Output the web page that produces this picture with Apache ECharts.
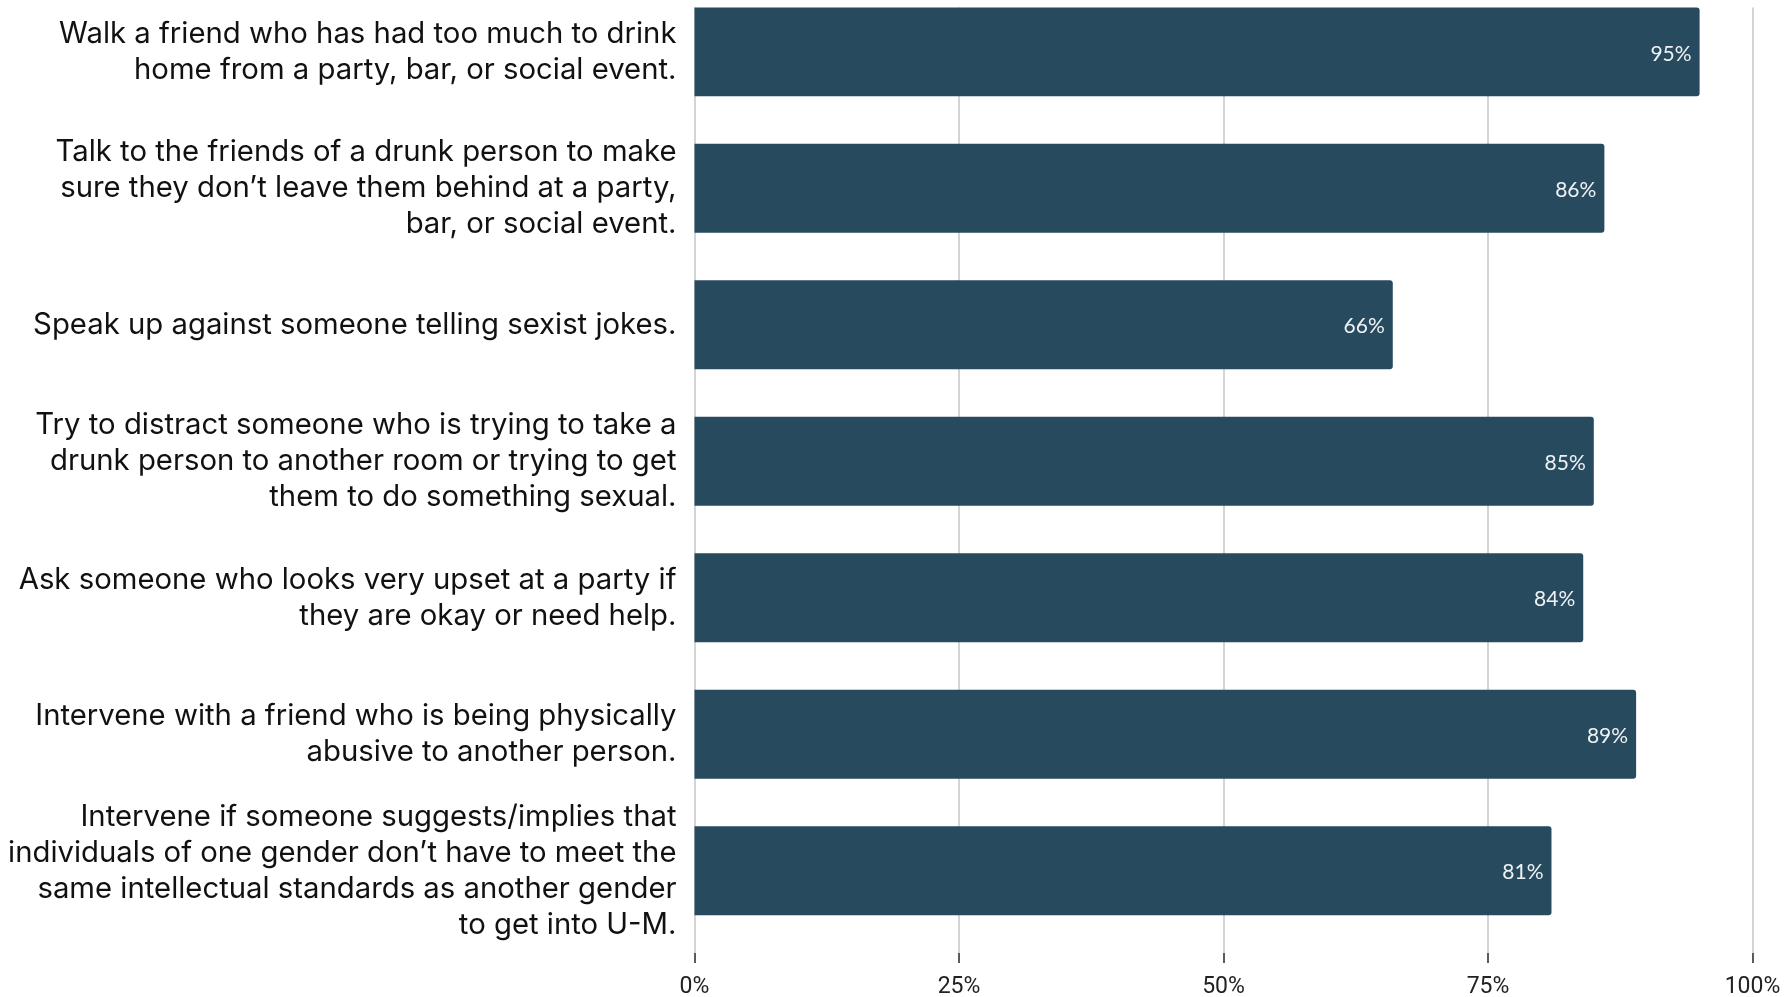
<!DOCTYPE html>
<html>
<head>
<meta charset="utf-8">
<script src="https://cdn.jsdelivr.net/npm/echarts@6/dist/echarts.min.js"></script>
<style>
  html, body { margin: 0; padding: 0; background: #ffffff; }
  #chart { width: 1785px; height: 997px; }
</style>
</head>
<body>
<div id="chart"></div>
<script>
const categories = [
  "Walk a friend who has had too much to drink\nhome from a party, bar, or social event.",
  "Talk to the friends of a drunk person to make\nsure they don\u2019t leave them behind at a party,\nbar, or social event.",
  "Speak up against someone telling sexist jokes.",
  "Try to distract someone who is trying to take a\ndrunk person to another room or trying to get\nthem to do something sexual.",
  "Ask someone who looks very upset at a party if\nthey are okay or need help.",
  "Intervene with a friend who is being physically\nabusive to another person.",
  "Intervene if someone suggests/implies that\nindividuals of one gender don\u2019t have to meet the\nsame intellectual standards as another gender\nto get into U-M."
];
const values = [95, 86, 66, 85, 84, 89, 81];
const xTicks = [0, 25, 50, 75, 100];

const chart = echarts.init(document.getElementById('chart'));
chart.setOption({
  backgroundColor: '#ffffff',
  animation: false,
  grid: { left: 694.5, right: 32.5, top: 7.5, bottom: 34, containLabel: false, outerBoundsMode: 'none' },
  xAxis: {
    type: 'value',
    min: xTicks[0],
    max: xTicks[xTicks.length - 1],
    interval: 25,
    axisLine: { show: false },
    axisTick: { show: true, inside: true, length: 10, lineStyle: { color: '#333', width: 1.5 } },
    splitLine: { show: true, lineStyle: { color: '#d4d4d4', width: 2 } },
    axisLabel: {
      margin: 13,
      fontFamily: 'Roboto',
      fontSize: 23,
      color: '#222',
      formatter: v => v + '%'
    }
  },
  yAxis: {
    type: 'category',
    inverse: true,
    data: categories,
    axisLine: { show: false },
    axisTick: { show: false },
    axisLabel: {
      interval: 0,
      margin: 18,
      align: 'right',
      formatter: v => v.split('\n').map(l => '{t|' + l + '}').join('\n') + '\n{sp|}',
      rich: {
        t: { fontFamily: 'Inter', fontSize: 29.3, lineHeight: 36, color: '#111', align: 'right' },
        sp: { fontSize: 10, lineHeight: 48, height: 48 }
      }
    }
  },
  series: [
    {
      type: 'bar',
      data: values,
      barWidth: 89,
      barGap: '-46%',
      itemStyle: { color: '#274a5f', borderRadius: [0, 3, 3, 0] },
      label: {
        show: true,
        position: 'insideRight',
        distance: 8,
        offset: [0, 2],
        fontFamily: 'Lato',
        fontSize: 21,
        color: '#eef2f4',
        formatter: p => p.value + '%'
      }
    },
    {
      type: 'bar',
      data: [],
      barWidth: 89,
      silent: true
    }
  ]
});
</script>
</body>
</html>
